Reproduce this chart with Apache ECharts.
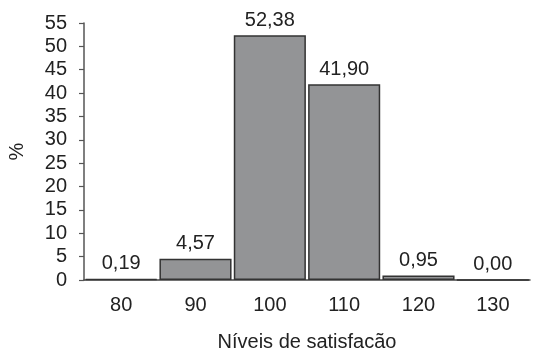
<!DOCTYPE html>
<html><head><meta charset="utf-8">
<script src="https://cdn.jsdelivr.net/npm/echarts@6/dist/echarts.min.js"></script>
<style>html,body{margin:0;padding:0;background:#fff}#c{width:536px;height:348px}</style>
</head><body><div id="c"></div>
<script>
const categories = ['80','90','100','110','120','130'];
const values = [0.19, 4.57, 52.38, 41.90, 0.95, 0.00];
const xName = 'Níveis de satisfação';
const yName = '%';

const chart = echarts.init(document.getElementById('c'));
const font = 'Liberation Sans, Arial, sans-serif';
chart.setOption({
  animation: false,
  grid: {left: 84, right: 6, top: 23, bottom: 68, containLabel: false, outerBoundsMode: 'none'},
  xAxis: {
    type: 'category', data: categories,
    name: xName, nameLocation: 'middle', nameGap: 52,
    nameTextStyle: {fontFamily: font, fontSize: 20, color: '#222'},
    axisLine: {lineStyle: {color: '#444', width: 1.5}},
    axisTick: {show: false},
    axisLabel: {fontFamily: font, fontSize: 20, color: '#222', margin: 15}
  },
  yAxis: {
    type: 'value', min: 0, max: 55, interval: 5,
    name: yName, nameLocation: 'middle', nameGap: 57, nameRotate: 90,
    nameTextStyle: {fontFamily: font, fontSize: 20, color: '#222'},
    axisLine: {show: true, lineStyle: {color: '#555', width: 1.5}},
    axisTick: {show: true, length: 5, lineStyle: {color: '#555', width: 1.2}},
    axisLabel: {fontFamily: font, fontSize: 20, color: '#222', margin: 17},
    splitLine: {show: false}
  },
  series: [{
    type: 'bar', data: values, barCategoryGap: '3%',
    itemStyle: {color: '#939496', borderColor: '#333', borderWidth: 1.5},
    label: {show: true, position: 'top', distance: 5, fontFamily: font, fontSize: 20, color: '#222',
      formatter: p => p.value.toFixed(2).replace('.', ',')}
  }]
});
</script></body></html>
